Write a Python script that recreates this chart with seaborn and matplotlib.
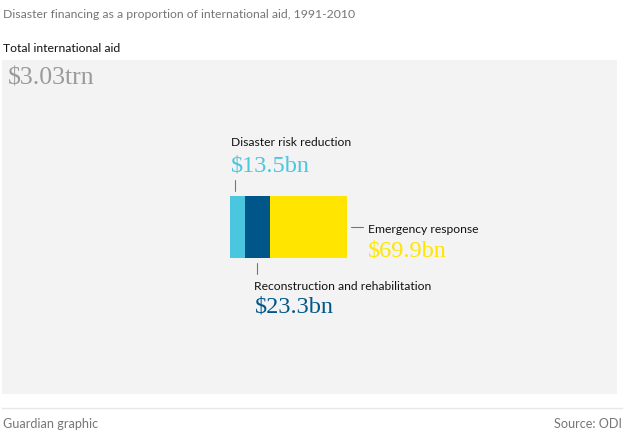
import numpy as np
import seaborn as sns
from matplotlib import pyplot as plt

# chart values (bn US$)
total_label = "Total international aid"
total_value = 3030.0
total_text = "$3.03trn"
categories = ["Disaster risk reduction", "Reconstruction and rehabilitation", "Emergency response"]
values = [13.5, 23.3, 69.9]
value_texts = ["$13.5bn", "$23.3bn", "$69.9bn"]
colors = ["#4bc6df", "#005689", "#ffe500"]

sns.set_theme(style="white")
plt.rcParams['font.family'] = ['Lato', 'DejaVu Sans']
serif = ['Liberation Serif', 'DejaVu Serif']

fig = plt.figure(figsize=(6.27, 4.4), dpi=100)
FW, FH = 627, 440

# axes box = total aid rectangle (pixels: x 2..617, y 60..394)
ax = fig.add_axes([2 / FW, 1 - 394 / FH, 615 / FW, 334 / FH])
ax.set_axis_off()

# area proportional: width * height = value
aspect = 615 / 334
W = np.sqrt(total_value * aspect)
H = total_value / W
px = W / 615  # data units per pixel
ax.set_xlim(0, W)
ax.set_ylim(H, 0)

ax.barh(H / 2, W, height=H, left=0, color="#f3f3f3", linewidth=0)

h = 62 * px
x0 = 228 * px
yc = H / 2
lefts = x0 + np.concatenate([[0], np.cumsum(values)[:-1]]) / h
widths = np.array(values) / h
ax.barh([yc] * len(values), widths, height=h, left=lefts, color=colors, linewidth=0)

top, bottom = yc - h / 2, yc + h / 2
tick_kw = dict(color="#767676", lw=0.8)
lab_kw = dict(fontsize=8.7, color="#121212", va="baseline", ha="left")
val_kw = dict(fontsize=17.5, va="baseline", ha="left", family=serif)

# disaster risk reduction (above)
tx = lefts[0] + 5 * px
ax.plot([tx, tx], [top - 5 * px, top - 16 * px], **tick_kw)
ax.text(lefts[0] + 1 * px, top - 50 * px, categories[0], **lab_kw)
ax.text(lefts[0] + 1 * px, top - 25 * px, value_texts[0], color=colors[0], **val_kw)

# reconstruction (below)
tx = lefts[1] + widths[1] / 2
ax.plot([tx, tx], [bottom + 5 * px, bottom + 16 * px], **tick_kw)
ax.text(tx - 3 * px, bottom + 32 * px, categories[1], **lab_kw)
ax.text(tx - 3 * px, bottom + 55 * px, value_texts[1], color=colors[1], **val_kw)

# emergency response (right)
rx = lefts[2] + widths[2]
ax.plot([rx + 4 * px, rx + 16 * px], [yc, yc], **tick_kw)
ax.text(rx + 21 * px, yc + 6 * px, categories[2], **lab_kw)
ax.text(rx + 21 * px, yc + 30 * px, value_texts[2], color=colors[2], **val_kw)

# total label inside rectangle
ax.text(6 * px, 24 * px, total_text, fontsize=18.5, color="#9a9a9a", va="baseline", ha="left", family=serif)

# titles and footer
fig.text(3 / FW, 1 - 14 / FH, "Disaster financing as a proportion of international aid, 1991-2010",
         fontsize=8.8, color="#767676", va="center", ha="left")
fig.text(3 / FW, 1 - 49 / FH, total_label, fontsize=8.8, color="#121212", va="center", ha="left")
fig.add_artist(plt.Line2D([2 / FW, 622 / FW], [1 - 408 / FH, 1 - 408 / FH], color="#e8e8e8", lw=1))
fig.text(3 / FW, 1 - 424 / FH, "Guardian graphic", fontsize=9.1, color="#767676", va="center", ha="left")
fig.text(622 / FW, 1 - 424 / FH, "Source: ODI", fontsize=9.1, color="#767676", va="center", ha="right")

fig.savefig("out.png", dpi=100, facecolor="white")
